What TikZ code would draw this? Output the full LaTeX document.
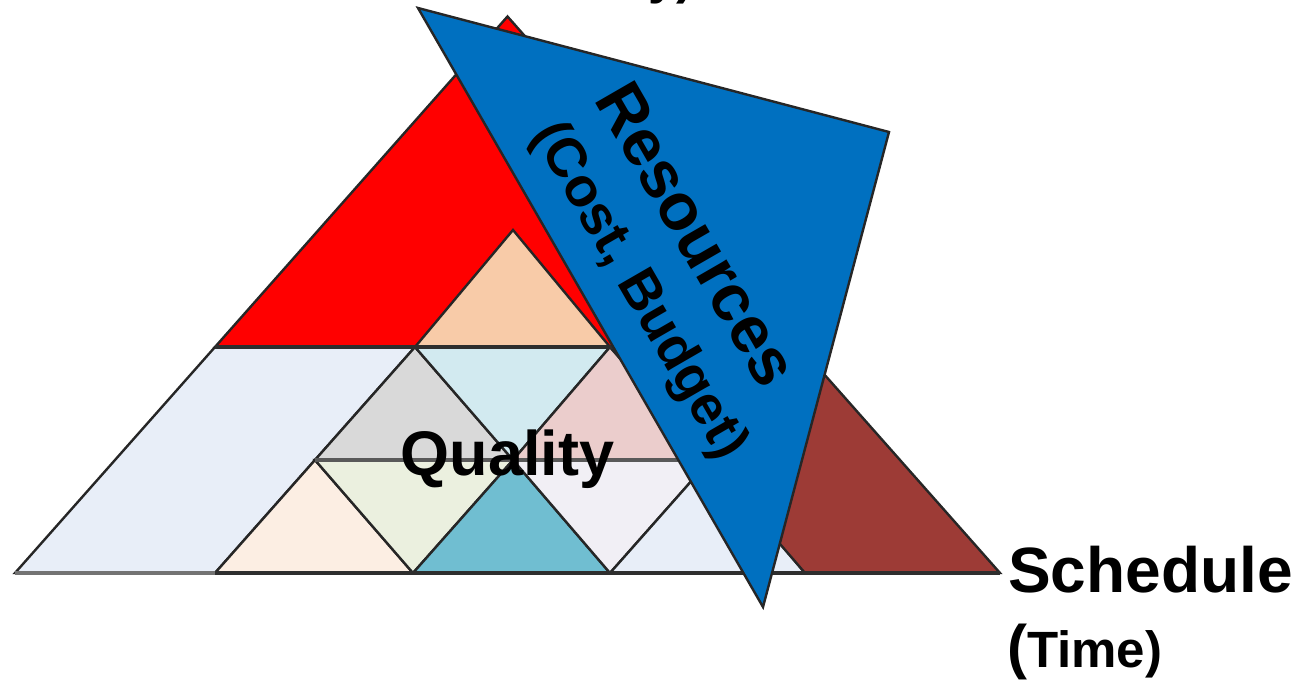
\documentclass[tikz,border=0pt]{standalone}
\usepackage{fontspec}
\setmainfont{Liberation Sans}
\definecolor{cLB}{HTML}{E8EEF8}
\definecolor{cPL}{HTML}{FCEEE3}
\definecolor{cGR}{HTML}{EBF0DF}
\definecolor{cTE}{HTML}{70BED1}
\definecolor{cLA}{HTML}{F1EFF5}
\definecolor{cGY}{HTML}{D9D9D9}
\definecolor{cCY}{HTML}{D2EAF0}
\definecolor{cPK}{HTML}{EBCDCC}
\definecolor{cDR}{HTML}{9D3B36}
\definecolor{cRD}{HTML}{FF0000}
\definecolor{cPE}{HTML}{F8CBA8}
\definecolor{cBL}{HTML}{0070C0}
\tikzset{
  tri/.style={draw=black!85, line width=2.4pt, line join=miter},
  hline/.style={draw=black!82, line width=4pt},
  lbl/.style={inner sep=0pt, font=\bfseries},
}
\begin{document}
\begin{tikzpicture}[x=1pt,y=1pt]
\useasboundingbox (0,0) rectangle (1306,681);
\clip (0,0) rectangle (1306,681);
% bottom and middle rows
\filldraw[tri, fill=cLB] (15,108) -- (215,108) -- (415,334) -- (215,334) -- cycle;
\filldraw[tri, fill=cPL] (215,108) -- (413,108) -- (315,221) -- cycle;
\filldraw[tri, fill=cGR] (315,221) -- (513,221) -- (413,108) -- cycle;
\filldraw[tri, fill=cTE] (413,108) -- (610,108) -- (513,221) -- cycle;
\filldraw[tri, fill=cLA] (513,221) -- (710,221) -- (610,108) -- cycle;
\filldraw[tri, fill=cLB] (610,108) -- (805,108) -- (710,221) -- cycle;
\filldraw[tri, fill=cGY] (315,221) -- (513,221) -- (415,334) -- cycle;
\filldraw[tri, fill=cCY] (415,334) -- (610,334) -- (513,221) -- cycle;
\filldraw[tri, fill=cPK] (513,221) -- (710,221) -- (610,334) -- cycle;
\filldraw[tri, fill=cDR] (805,108) -- (1000,108) -- (800,334) -- (610,334) -- cycle;
% top region
\filldraw[tri, fill=cRD] (215,334) -- (800,334) -- (507.5,664.5) -- cycle;
\filldraw[tri, fill=cPE] (415,334) -- (610,334) -- (513,451) -- cycle;
% horizontal lines
\draw[hline] (215,334) -- (800,334);
\draw[hline, draw=black!65, line width=4.5pt] (315,221) -- (710,221);
\draw[hline, draw=black!55] (15,108) -- (215,108);
\draw[hline] (215,108) -- (1000,108);
% resources triangle
\filldraw[tri, fill=cBL] (418,673) -- (889,549) -- (763,74) -- cycle;
% labels
\node[lbl, anchor=base, font=\bfseries\fontsize{63}{75}\selectfont] (quality) at (507.5,206) {Quality};
\node[lbl, anchor=base west, font=\bfseries\fontsize{64}{77}\selectfont] (schedule) at (1008,89) {Schedule};
\node[lbl, anchor=base west] (time) at (1007,14) {{\fontsize{60}{72}\selectfont (}{\fontsize{51}{61}\selectfont Time)}};
\node[lbl, rotate=-60, font=\bfseries\fontsize{66}{79}\selectfont] (resources) at (697,447) {Resources};
\node[lbl, rotate=-60, font=\bfseries\fontsize{55}{66}\selectfont] (cost) at (638,390) {(Cost, Budget)};
\node[lbl, anchor=base east, font=\bfseries\fontsize{51}{61}\selectfont] (scope) at (694,687) {Functionality)};
\end{tikzpicture}
\end{document}
